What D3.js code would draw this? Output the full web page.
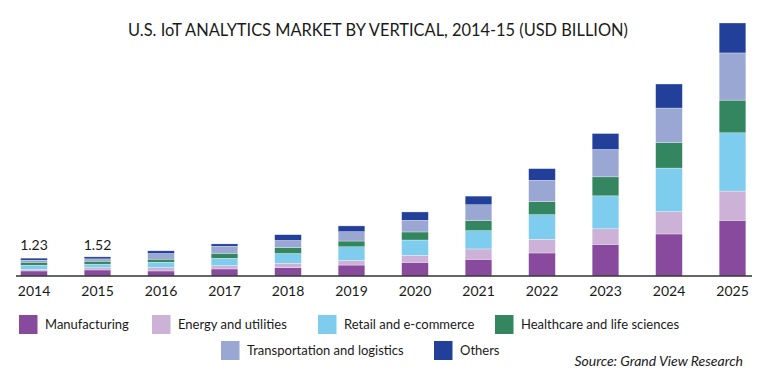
<!DOCTYPE html>
<html>
<head>
<meta charset="utf-8">
<script src="https://cdn.jsdelivr.net/npm/d3@7"></script>
<style>
  html, body { margin: 0; padding: 0; background: #fff; }
  #svg-container { width: 770px; height: 384px; }
  text { font-family: Lato, "Open Sans", sans-serif; fill: #1a1a1a; }
  .title { font-size: 16.4px; }
  .year { font-size: 14px; }
  .legend-texts { font-size: 13px; }
  .source { font-size: 14px; font-style: italic; }
</style>
</head>
<body>
<div id="svg-container"></div>
<script>
////////////////////////////////////////////////////////////////////
////////////////////////////  Data  ////////////////////////////////
const years = ["2014", "2015", "2016", "2017", "2018", "2019", "2020", "2021", "2022", "2023", "2024", "2025"];
const verticals = ["Manufacturing", "Energy and utilities", "Retail and e-commerce",
  "Healthcare and life sciences", "Transportation and logistics", "Others"];

const manufacturing = [0.35, 0.42, 0.35, 0.49, 0.58, 0.76, 0.95, 1.16, 1.60, 2.20, 2.92, 3.87];
const energy        = [0.12, 0.16, 0.23, 0.23, 0.31, 0.33, 0.49, 0.72, 0.95, 1.08, 1.55, 2.03];
const retail        = [0.28, 0.24, 0.38, 0.51, 0.67, 0.94, 1.06, 1.27, 1.71, 2.29, 3.03, 4.05];
const healthcare    = [0.21, 0.21, 0.21, 0.35, 0.42, 0.40, 0.56, 0.69, 0.90, 1.32, 1.76, 2.27];
const transport     = [0.14, 0.16, 0.39, 0.49, 0.49, 0.65, 0.81, 1.11, 1.49, 1.90, 2.41, 3.28];
const others        = [0.14, 0.14, 0.19, 0.16, 0.40, 0.40, 0.58, 0.60, 0.81, 1.11, 1.67, 2.08];

// value labels shown above the first two bars
const valueLabels = ["1.23", "1.52"];

////////////////////////////////////////////////////////////////////
////////////////////////////  Init  ///////////////////////////////
const width = 770;
const height = 384;
const baseline = 276;

const svg = d3.select("#svg-container").append("svg")
  .attr("width", width).attr("height", height);

const series = [manufacturing, energy, retail, healthcare, transport, others];
const data = years.map((y, i) => {
  const row = { year: y };
  verticals.forEach((v, k) => (row[v] = series[k][i]));
  return row;
});

const stacked = d3.stack().keys(verticals)(data);

const xScale = d3.scaleBand().domain(years)
  .range([2.25, 764.25]).paddingInner(0.58).paddingOuter(0.29);
const yScale = d3.scaleLinear().domain([0, 17.6]).range([baseline, 22.7]);
const colorScale = d3.scaleOrdinal().domain(verticals)
  .range(["#874a9c", "#cdb2d7", "#7ecdee", "#33865f", "#99a7d2", "#22409a"]);

// title
svg.append("text")
  .attr("class", "title")
  .attr("x", 378).attr("y", 36)
  .attr("text-anchor", "middle")
  .text("U.S. IoT ANALYTICS MARKET BY VERTICAL, 2014-15 (USD BILLION)");

// bars
svg.selectAll("g.layer")
  .data(stacked)
  .join("g")
  .attr("class", "layer")
  .attr("fill", (d) => colorScale(d.key))
  .selectAll("rect")
  .data((d) => d)
  .join("rect")
  .attr("x", (d) => xScale(d.data.year))
  .attr("y", (d) => yScale(d[1]))
  .attr("width", xScale.bandwidth())
  .attr("height", (d) => yScale(d[0]) - yScale(d[1]))
  .attr("stroke", "#fff")
  .attr("stroke-opacity", 0.6)
  .attr("stroke-width", 0.5);

// value labels
svg.selectAll("text.value")
  .data(valueLabels)
  .join("text")
  .attr("class", "year value")
  .attr("x", (d, i) => xScale(years[i]) + xScale.bandwidth() / 2)
  .attr("y", 250)
  .attr("text-anchor", "middle")
  .text((d) => d);

// axis
const xAxis = d3.axisBottom(xScale).tickSize(0).tickPadding(10);
const gx = svg.append("g")
  .attr("transform", `translate(0,${baseline})`)
  .call(xAxis);
gx.select(".domain").attr("d", "M16,0H752").attr("stroke", "#333").attr("stroke-width", 1.3);
gx.selectAll(".tick text").attr("class", "year").attr("font-family", null).attr("font-size", null).attr("fill", "#1a1a1a");

// legend
const legendPos = [
  { x: 19, y: 315 }, { x: 152, y: 315 }, { x: 318, y: 315 },
  { x: 495, y: 315 }, { x: 221, y: 341 }, { x: 434, y: 341 }
];

const legend = svg.selectAll("g.legend")
  .data(verticals)
  .join("g")
  .attr("class", "legend")
  .attr("transform", (d, i) => `translate(${legendPos[i].x},${legendPos[i].y})`);

legend.append("rect")
  .attr("width", 18.5).attr("height", 19)
  .attr("fill", (d) => colorScale(d));

legend.append("text")
  .attr("class", "legend-texts")
  .attr("x", 26).attr("y", 14)
  .text((d) => d);

// source
svg.append("text")
  .attr("class", "source")
  .attr("x", 743).attr("y", 366)
  .attr("text-anchor", "end")
  .text("Source: Grand View Research");
</script>
</body>
</html>
